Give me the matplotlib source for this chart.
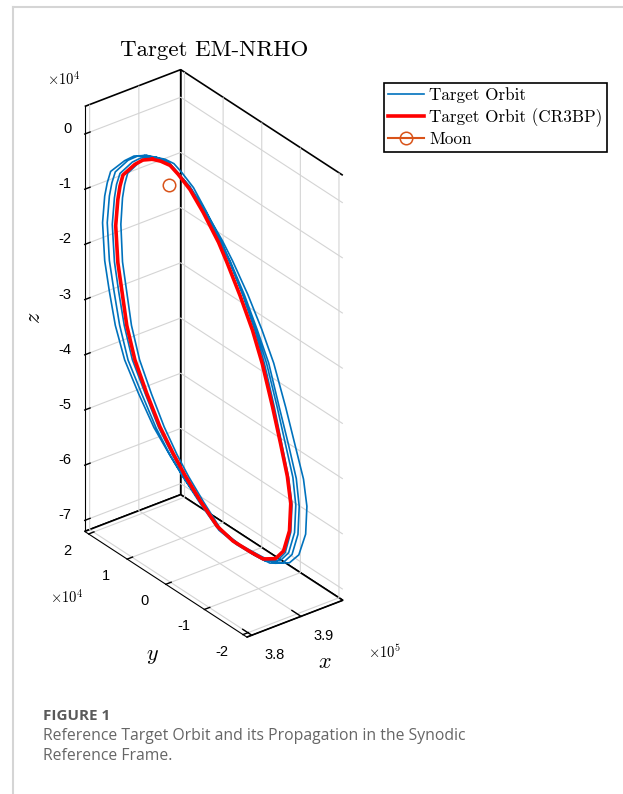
import matplotlib
matplotlib.use('Agg')
import matplotlib.pyplot as plt
from matplotlib.lines import Line2D
from matplotlib.transforms import offset_copy
from mpl_toolkits.mplot3d import proj3d

# synodic frame, units of 1e4 km
# reference NRHO (CR3BP)
red_x = [38.41, 38.48, 38.56, 38.63, 38.73, 38.85, 38.98, 39.05, 39.16, 39.27, 39.35, 39.44, 39.51,
         39.57, 39.60, 39.59, 39.54, 39.47, 39.36, 39.25, 39.10, 38.97, 38.82, 38.69, 38.59, 38.47,
         38.36, 38.26, 38.19, 38.15, 38.11, 38.09, 38.11, 38.13, 38.16, 38.26, 38.33, 38.41]
red_y = [1.00, 0.87, 0.73, 0.61, 0.43, 0.24, 0.01, -0.12, -0.32, -0.50, -0.65, -0.80, -0.92,
         -1.02, -1.07, -1.05, -0.96, -0.84, -0.66, -0.47, -0.21, 0.03, 0.28, 0.51, 0.69, 0.88,
         1.08, 1.26, 1.38, 1.45, 1.51, 1.54, 1.51, 1.48, 1.44, 1.26, 1.14, 1.00]
red_z = [-0.13, -0.13, -0.17, -0.30, -0.53, -0.90, -1.38, -1.71, -2.26, -2.84, -3.40, -4.14, -4.78,
         -5.35, -5.83, -6.33, -6.72, -6.89, -6.94, -6.86, -6.73, -6.53, -6.13, -5.73, -5.38, -4.94,
         -4.39, -3.83, -3.24, -2.66, -2.13, -1.47, -0.99, -0.74, -0.53, -0.29, -0.18, -0.13]

# propagated orbit, one row per revolution
prop_x = [
    [38.34, 38.43, 38.53, 38.61, 38.73, 38.86, 39.01, 39.10, 39.23, 39.35, 39.45, 39.56, 39.64,
     39.71, 39.74, 39.73, 39.67, 39.59, 39.46, 39.33, 39.16, 39.00, 38.83, 38.68, 38.56, 38.42,
     38.29, 38.17, 38.09, 38.04, 38.00, 37.98, 38.00, 38.02, 38.05, 38.17, 38.25, 38.34],
    [38.36, 38.45, 38.54, 38.61, 38.72, 38.85, 38.99, 39.08, 39.20, 39.31, 39.41, 39.50, 39.58,
     39.65, 39.67, 39.66, 39.61, 39.53, 39.42, 39.29, 39.13, 38.98, 38.82, 38.68, 38.56, 38.44,
     38.32, 38.20, 38.13, 38.08, 38.04, 38.02, 38.04, 38.06, 38.09, 38.20, 38.28, 38.36],
    [38.39, 38.47, 38.56, 38.63, 38.73, 38.86, 38.99, 39.07, 39.19, 39.30, 39.39, 39.48, 39.55,
     39.62, 39.64, 39.63, 39.58, 39.51, 39.40, 39.28, 39.12, 38.98, 38.83, 38.69, 38.58, 38.46,
     38.35, 38.24, 38.17, 38.12, 38.08, 38.06, 38.08, 38.10, 38.13, 38.24, 38.31, 38.39],
    [38.44, 38.52, 38.59, 38.66, 38.76, 38.87, 39.00, 39.08, 39.19, 39.29, 39.37, 39.46, 39.52,
     39.58, 39.61, 39.60, 39.55, 39.48, 39.38, 39.27, 39.13, 38.99, 38.85, 38.72, 38.62, 38.51,
     38.40, 38.30, 38.23, 38.19, 38.15, 38.14, 38.15, 38.17, 38.20, 38.30, 38.37, 38.44],
]
prop_y = [
    [1.11, 0.95, 0.79, 0.65, 0.44, 0.22, -0.05, -0.20, -0.43, -0.64, -0.82, -0.99, -1.13,
     -1.26, -1.31, -1.29, -1.19, -1.05, -0.84, -0.61, -0.31, -0.03, 0.27, 0.53, 0.74, 0.97,
     1.20, 1.41, 1.55, 1.64, 1.71, 1.74, 1.71, 1.67, 1.62, 1.41, 1.27, 1.11],
    [1.08, 0.93, 0.78, 0.65, 0.45, 0.23, -0.01, -0.16, -0.38, -0.57, -0.74, -0.90, -1.04,
     -1.15, -1.20, -1.18, -1.09, -0.95, -0.76, -0.54, -0.26, 0.00, 0.28, 0.53, 0.73, 0.94,
     1.16, 1.36, 1.49, 1.57, 1.64, 1.67, 1.64, 1.60, 1.55, 1.36, 1.22, 1.08],
    [1.03, 0.89, 0.74, 0.62, 0.43, 0.22, -0.02, -0.16, -0.37, -0.55, -0.71, -0.87, -1.00,
     -1.10, -1.15, -1.13, -1.04, -0.91, -0.73, -0.52, -0.25, 0.00, 0.27, 0.51, 0.70, 0.90,
     1.11, 1.30, 1.42, 1.50, 1.56, 1.59, 1.56, 1.53, 1.48, 1.30, 1.17, 1.03],
    [0.94, 0.81, 0.67, 0.56, 0.38, 0.19, -0.03, -0.16, -0.35, -0.53, -0.68, -0.82, -0.94,
     -1.04, -1.09, -1.07, -0.99, -0.87, -0.69, -0.50, -0.25, -0.02, 0.23, 0.45, 0.63, 0.82,
     1.01, 1.19, 1.31, 1.38, 1.44, 1.47, 1.44, 1.41, 1.37, 1.19, 1.07, 0.94],
]
prop_z = [
    [-0.09, -0.08, -0.12, -0.25, -0.47, -0.84, -1.33, -1.66, -2.21, -2.79, -3.35, -4.11, -4.76,
     -5.34, -5.82, -6.33, -6.73, -6.91, -6.97, -6.89, -6.77, -6.58, -6.17, -5.78, -5.42, -4.98,
     -4.43, -3.87, -3.28, -2.69, -2.15, -1.47, -0.98, -0.73, -0.51, -0.26, -0.14, -0.09],
    [-0.08, -0.08, -0.11, -0.24, -0.47, -0.84, -1.34, -1.67, -2.23, -2.81, -3.37, -4.13, -4.78,
     -5.36, -5.85, -6.36, -6.75, -6.94, -6.99, -6.91, -6.78, -6.59, -6.18, -5.78, -5.42, -4.98,
     -4.42, -3.86, -3.26, -2.67, -2.13, -1.45, -0.96, -0.71, -0.50, -0.24, -0.13, -0.08],
    [-0.10, -0.10, -0.14, -0.27, -0.50, -0.87, -1.36, -1.69, -2.24, -2.82, -3.38, -4.13, -4.78,
     -5.35, -5.84, -6.34, -6.73, -6.91, -6.96, -6.88, -6.75, -6.56, -6.15, -5.75, -5.40, -4.96,
     -4.40, -3.84, -3.25, -2.66, -2.13, -1.46, -0.97, -0.72, -0.51, -0.26, -0.15, -0.10],
    [-0.08, -0.08, -0.12, -0.25, -0.48, -0.86, -1.35, -1.69, -2.24, -2.82, -3.39, -4.14, -4.79,
     -5.37, -5.85, -6.35, -6.74, -6.92, -6.97, -6.89, -6.75, -6.55, -6.14, -5.74, -5.38, -4.93,
     -4.38, -3.81, -3.22, -2.63, -2.10, -1.43, -0.94, -0.69, -0.48, -0.23, -0.13, -0.08],
]

moon = (37.973, 0.0, 0.0)

x_ticks = [38, 39]
x_labels = ['3.8', '3.9']
y_ticks = [-2, -1, 0, 1, 2]
z_ticks = [-7, -6, -5, -4, -3, -2, -1, 0]

plt.rcParams['font.family'] = 'Liberation Sans'
plt.rcParams['mathtext.fontset'] = 'cm'
plt.rcParams['grid.color'] = '#d4d4d4'
plt.rcParams['grid.linewidth'] = 0.8

fig = plt.figure(figsize=(6.23, 7.94), dpi=100)
ax = fig.add_axes([-0.042, 0.117, 0.75, 0.86], projection='3d', proj_type='ortho')
ax.view_init(elev=30, azim=-127.5)

bx = [v for rev in prop_x for v in rev]
by = [v for rev in prop_y for v in rev]
bz = [v for rev in prop_z for v in rev]
ax.plot(bx, by, bz, color='#0072BD', lw=1.2, label='Target Orbit')
ax.plot(red_x, red_y, red_z, color='#FF0000', lw=2.6, label='Target Orbit (CR3BP)')
ax.plot([moon[0]], [moon[1]], [moon[2]], '-o', color='#D95319', mfc='none', ms=9, mew=1.1,
        label='Moon')

xlim, ylim, zlim = (37.90, 39.85), (-2.1, 2.1), (-7.2, 0.5)
ax.set_xlim(*xlim)
ax.set_ylim(*ylim)
ax.set_zlim(*zlim)
ax.set_box_aspect((120.5, 265.4, 489), zoom=1.187)
ax.set_xticks(x_ticks, [''] * len(x_ticks))
ax.set_yticks(y_ticks, [''] * len(y_ticks))
ax.set_zticks(z_ticks, [''] * len(z_ticks))
for a in (ax.xaxis, ax.yaxis, ax.zaxis):
    a.set_pane_color((1, 1, 1, 1))
    a.pane.set_edgecolor('k')
    a.pane.set_linewidth(1.2)
    a.line.set_color('k')
    a._axinfo['tick']['inward_factor'] = 0.0
    a._axinfo['tick']['outward_factor'] = 0.7
    a._axinfo['tick']['linewidth'] = {True: 1.0, False: 0.6}

# matlab-style tick labels, placed beside the projected tick positions
fig.canvas.draw()
M = ax.M


def tick_text(x, y, z, s, dx, dy, ha='center'):
    px, py, _ = proj3d.proj_transform(x, y, z, M)
    tr = offset_copy(ax.transData, fig=fig, x=dx, y=dy, units='dots')
    ax.text2D(px, py, s, transform=tr, ha=ha, va='center', size=10.5)


for v, lab in zip(x_ticks, x_labels):
    tick_text(v, ylim[0], zlim[0], lab, 23, -20)
for v in y_ticks:
    tick_text(xlim[0], v, zlim[0], str(v), -21, -17)
for v in z_ticks:
    tick_text(xlim[0], ylim[1], v, str(v), -13, 5, ha='right')

leg = fig.legend(loc='upper left', bbox_to_anchor=(384/623, 1-83/794),
                 prop={'family': 'cmr10', 'size': 12.3}, fancybox=False,
                 edgecolor='k', framealpha=1, borderpad=0.25, labelspacing=0.3,
                 handlelength=2.1, handletextpad=0.3, borderaxespad=0)
leg.get_frame().set_linewidth(1.2)

fig.text(214/623, 1-50/794, 'Target EM-NRHO', family='cmr10', size=16.5, ha='center', va='center')
fig.text(47/623, 1-80/794, r'$\mathsf{\times10^{4}}$', size=10.5, va='center')
fig.text(50/623, 1-598/794, r'$\mathsf{\times10^{4}}$', size=10.5, va='center')
fig.text(368/623, 1-652/794, r'$\mathsf{\times10^{5}}$', size=10.5, va='center')
fig.text(35/623, 1-318/794, r'$z$', size=16, rotation=90, ha='center', va='center')
fig.text(152/623, 1-655/794, r'$y$', size=16, ha='center', va='center')
fig.text(325/623, 1-662/794, r'$x$', size=16, ha='center', va='center')

fig.text(43/623, 1-716/794, 'FIGURE 1', family='Open Sans', weight='bold', size=11,
         color='#5a5a5a', va='center')
fig.text(43/623, 1-736/794, 'Reference Target Orbit and its Propagation in the Synodic',
         family='Open Sans', size=11.3, color='#666666', va='center')
fig.text(43/623, 1-756/794, 'Reference Frame.', family='Open Sans', size=11.3,
         color='#666666', va='center')
fig.add_artist(Line2D([13/623, 1], [1-7/794, 1-7/794], color='#d5d5d5', lw=1.5))
fig.add_artist(Line2D([13/623, 13/623], [0, 1-7/794], color='#d5d5d5', lw=1.5))

fig.savefig('out.png')
